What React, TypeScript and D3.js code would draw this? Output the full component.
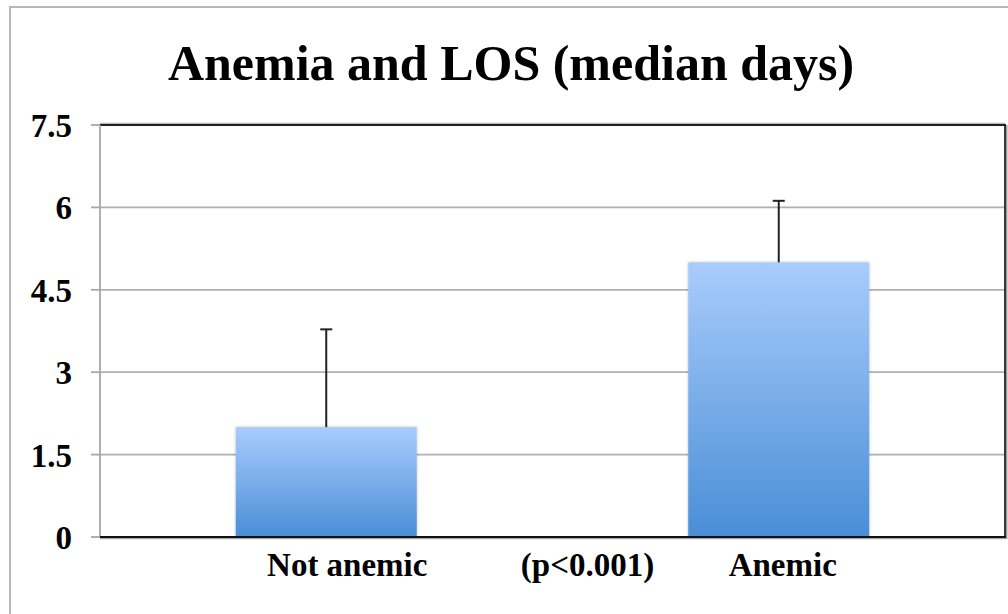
import React from "react";
import * as d3 from "d3";

const title = "Anemia and LOS (median days)";
const categories = ["Not anemic", "Anemic"];
const medians = [2.0, 5.0];
const upperErrors = [1.78, 1.12];
const yTicks = [0, 1.5, 3, 4.5, 6, 7.5];
const annotation = "(p<0.001)";

const W = 1008;
const H = 614;
const plot = { left: 100, top: 125, right: 1005, bottom: 537 };
const font = "'Liberation Serif', 'Times New Roman', serif";

export default function App() {
  const x = d3
    .scaleBand<string>()
    .domain(categories)
    .range([plot.left, plot.right])
    .paddingInner(0.6)
    .paddingOuter(0.3);
  const y = d3.scaleLinear().domain([0, 7.5]).range([plot.bottom, plot.top]);
  const bw = x.bandwidth();
  const step = x.step();

  return (
    <svg
      width={W}
      height={H}
      style={{ position: "absolute", left: 0, top: 0, background: "#fff" }}
    >
      <defs>
        <linearGradient id="barGrad" x1="0" y1="0" x2="0" y2="1">
          <stop offset="0%" stopColor="#a9ccfc" />
          <stop offset="100%" stopColor="#4a8ed7" />
        </linearGradient>
        <filter id="shadow" x="-10%" y="-10%" width="120%" height="120%">
          <feDropShadow dx="0" dy="0" stdDeviation="1.5" floodColor="#000" floodOpacity="0.25" />
        </filter>
      </defs>
      {/* outer frame */}
      <rect x={10} y={7} width={W + 20} height={H + 20} fill="none" stroke="#b8b8b8" strokeWidth={2} />

      <text
        x={511}
        y={80}
        textAnchor="middle"
        fontFamily={font}
        fontWeight="bold"
        fontSize={50}
        fill="#000"
      >
        {title}
      </text>

      {/* gridlines */}
      {yTicks
        .filter((t) => t > 0 && t < 7.5)
        .map((t) => (
          <line
            key={"g" + t}
            x1={plot.left}
            x2={plot.right}
            y1={y(t)}
            y2={y(t)}
            stroke="#b0b0b0"
            strokeWidth={1.8}
          />
        ))}

      {/* tick marks and labels */}
      {yTicks.map((t) => (
        <g key={"t" + t}>
          <line x1={91} x2={plot.left} y1={y(t)} y2={y(t)} stroke="#a8a8a8" strokeWidth={1.8} />
          <text
            x={72}
            y={y(t) + 12}
            textAnchor="end"
            fontFamily={font}
            fontWeight="bold"
            fontSize={33}
            fill="#000"
          >
            {t}
          </text>
        </g>
      ))}

      {/* plot frame: top & right dark */}
      <line x1={plot.left} x2={plot.right} y1={plot.top - 1.5} y2={plot.top - 1.5} stroke="#bbb" strokeWidth={1.5} />
      <line x1={plot.left} x2={plot.right + 1} y1={plot.top} y2={plot.top} stroke="#222" strokeWidth={1.8} />
      <line x1={plot.right} x2={plot.right} y1={plot.top} y2={plot.bottom} stroke="#222" strokeWidth={1.8} />
      <line x1={plot.right + 1.8} x2={plot.right + 1.8} y1={plot.top} y2={plot.bottom + 2} stroke="#888" strokeWidth={1.2} />

      {/* bars */}
      {categories.map((c, i) => (
        <rect
          key={"b" + c}
          x={x(c)}
          y={y(medians[i])}
          width={bw}
          height={y(0) - y(medians[i])}
          fill="url(#barGrad)"
          filter="url(#shadow)"
        />
      ))}

      {/* error bars */}
      {categories.map((c, i) => {
        const cx = (x(c) as number) + bw / 2;
        const top = y(medians[i] + upperErrors[i]);
        return (
          <g key={"e" + c} stroke="#222" strokeWidth={2}>
            <line x1={cx} x2={cx} y1={y(medians[i])} y2={top} />
            <line x1={cx - 6} x2={cx + 6} y1={top} y2={top} />
          </g>
        );
      })}

      {/* y axis (gray) and baseline (dark) */}
      <line x1={plot.left} x2={plot.left} y1={plot.top} y2={plot.bottom} stroke="#a8a8a8" strokeWidth={1.8} />
      <line x1={plot.left} x2={plot.right + 1} y1={plot.bottom + 1.5} y2={plot.bottom + 1.5} stroke="#aaa" strokeWidth={1.5} />
      <line x1={plot.left} x2={plot.right + 1} y1={plot.bottom} y2={plot.bottom} stroke="#111" strokeWidth={1.8} />

      {/* category labels */}
      {categories.map((c, i) => (
        <text
          key={"l" + c}
          x={(x(c) as number) + bw / 2 + (i === 0 ? 21 : 4)}
          y={576}
          textAnchor="middle"
          fontFamily={font}
          fontWeight="bold"
          fontSize={33}
          fill="#000"
        >
          {c}
        </text>
      ))}
      <text
        x={(x(categories[1]) as number) - step / 2 + bw / 2 + 35}
        y={576}
        textAnchor="middle"
        fontFamily={font}
        fontWeight="bold"
        fontSize={33}
        fill="#000"
      >
        {annotation}
      </text>
    </svg>
  );
}
